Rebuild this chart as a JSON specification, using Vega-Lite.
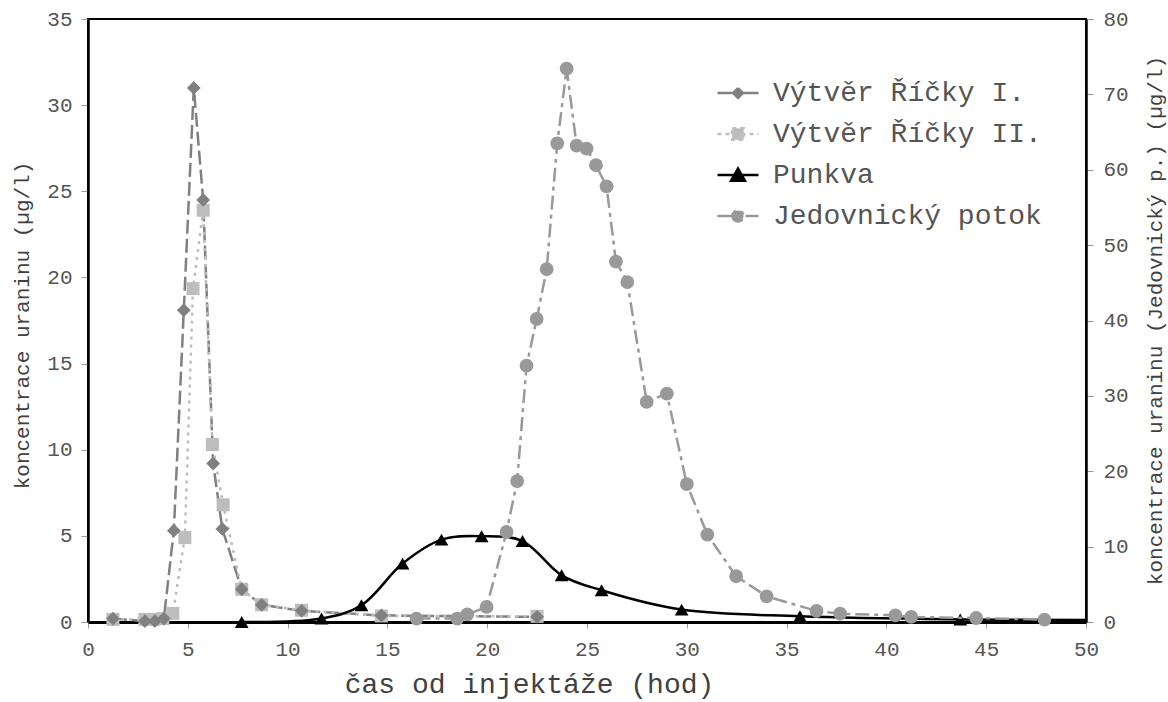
{
  "$schema": "https://vega.github.io/schema/vega-lite/v6.json",
  "autosize": "none",
  "width": 998,
  "height": 603,
  "padding": {"left": 88, "top": 19, "right": 82, "bottom": 80},
  "background": "white",
  "config": {
    "font": "Liberation Mono",
    "view": {"stroke": "black", "strokeWidth": 2},
    "axis": {"grid": false, "labelFont": "Liberation Mono", "titleFont": "Liberation Mono", "labelColor": "#555555", "titleColor": "#404040", "titleFontWeight": "normal", "tickColor": "#9a9a9a", "domainColor": "black"}
  },
  "data": {"values": [
    {"s": "Výtvěr Říčky I.", "h": 1.25, "v": 0.2},
    {"s": "Výtvěr Říčky I.", "h": 2.85, "v": 0.05},
    {"s": "Výtvěr Říčky I.", "h": 3.35, "v": 0.05},
    {"s": "Výtvěr Říčky I.", "h": 3.8, "v": 0.2},
    {"s": "Výtvěr Říčky I.", "h": 4.3, "v": 5.3},
    {"s": "Výtvěr Říčky I.", "h": 4.8, "v": 18.1},
    {"s": "Výtvěr Říčky I.", "h": 5.3, "v": 31.0},
    {"s": "Výtvěr Říčky I.", "h": 5.77, "v": 24.5},
    {"s": "Výtvěr Říčky I.", "h": 6.27, "v": 9.2},
    {"s": "Výtvěr Říčky I.", "h": 6.73, "v": 5.4},
    {"s": "Výtvěr Říčky I.", "h": 7.7, "v": 1.9},
    {"s": "Výtvěr Říčky I.", "h": 8.7, "v": 1.0},
    {"s": "Výtvěr Říčky I.", "h": 10.7, "v": 0.65},
    {"s": "Výtvěr Říčky I.", "h": 14.7, "v": 0.38},
    {"s": "Výtvěr Říčky I.", "h": 22.5, "v": 0.3},
    {"s": "Výtvěr Říčky II.", "h": 1.25, "v": 0.15},
    {"s": "Výtvěr Říčky II.", "h": 2.85, "v": 0.15},
    {"s": "Výtvěr Říčky II.", "h": 3.3, "v": 0.15},
    {"s": "Výtvěr Říčky II.", "h": 3.75, "v": 0.2},
    {"s": "Výtvěr Říčky II.", "h": 4.25, "v": 0.5},
    {"s": "Výtvěr Říčky II.", "h": 4.85, "v": 4.9},
    {"s": "Výtvěr Říčky II.", "h": 5.26, "v": 19.35},
    {"s": "Výtvěr Říčky II.", "h": 5.77, "v": 23.9},
    {"s": "Výtvěr Říčky II.", "h": 6.23, "v": 10.3},
    {"s": "Výtvěr Říčky II.", "h": 6.77, "v": 6.8},
    {"s": "Výtvěr Říčky II.", "h": 7.7, "v": 1.9},
    {"s": "Výtvěr Říčky II.", "h": 8.7, "v": 1.0},
    {"s": "Výtvěr Říčky II.", "h": 10.7, "v": 0.68},
    {"s": "Výtvěr Říčky II.", "h": 14.7, "v": 0.35},
    {"s": "Výtvěr Říčky II.", "h": 22.5, "v": 0.33},
    {"s": "Punkva", "h": 7.7, "v": 0.0},
    {"s": "Punkva", "h": 11.7, "v": 0.2},
    {"s": "Punkva", "h": 13.7, "v": 0.97},
    {"s": "Punkva", "h": 15.76, "v": 3.39},
    {"s": "Punkva", "h": 17.71, "v": 4.78},
    {"s": "Punkva", "h": 19.72, "v": 4.98},
    {"s": "Punkva", "h": 21.77, "v": 4.7},
    {"s": "Punkva", "h": 23.73, "v": 2.71},
    {"s": "Punkva", "h": 25.73, "v": 1.84},
    {"s": "Punkva", "h": 29.74, "v": 0.72},
    {"s": "Punkva", "h": 35.67, "v": 0.33},
    {"s": "Punkva", "h": 43.7, "v": 0.15},
    {"s": "Punkva", "h": 50, "v": 0.12},
    {"s": "Jedovnický potok", "h": 16.46, "v": 0.45},
    {"s": "Jedovnický potok", "h": 18.5, "v": 0.45},
    {"s": "Jedovnický potok", "h": 19.0, "v": 1.0},
    {"s": "Jedovnický potok", "h": 19.97, "v": 2.0},
    {"s": "Jedovnický potok", "h": 20.97, "v": 11.95},
    {"s": "Jedovnický potok", "h": 21.5, "v": 18.7},
    {"s": "Jedovnický potok", "h": 21.97, "v": 34.0},
    {"s": "Jedovnický potok", "h": 22.48, "v": 40.2},
    {"s": "Jedovnický potok", "h": 22.98, "v": 46.8},
    {"s": "Jedovnický potok", "h": 23.51, "v": 63.5},
    {"s": "Jedovnický potok", "h": 23.98, "v": 73.4},
    {"s": "Jedovnický potok", "h": 24.48, "v": 63.2},
    {"s": "Jedovnický potok", "h": 24.98, "v": 62.8},
    {"s": "Jedovnický potok", "h": 25.45, "v": 60.6},
    {"s": "Jedovnický potok", "h": 25.98, "v": 57.8},
    {"s": "Jedovnický potok", "h": 26.45, "v": 47.8},
    {"s": "Jedovnický potok", "h": 27.02, "v": 45.1},
    {"s": "Jedovnický potok", "h": 27.99, "v": 29.2},
    {"s": "Jedovnický potok", "h": 29.0, "v": 30.3},
    {"s": "Jedovnický potok", "h": 30.0, "v": 18.3},
    {"s": "Jedovnický potok", "h": 31.03, "v": 11.6},
    {"s": "Jedovnický potok", "h": 32.47, "v": 6.07},
    {"s": "Jedovnický potok", "h": 34.0, "v": 3.41},
    {"s": "Jedovnický potok", "h": 36.5, "v": 1.46},
    {"s": "Jedovnický potok", "h": 37.68, "v": 1.1},
    {"s": "Jedovnický potok", "h": 40.45, "v": 0.89},
    {"s": "Jedovnický potok", "h": 41.24, "v": 0.67},
    {"s": "Jedovnický potok", "h": 44.5, "v": 0.53},
    {"s": "Jedovnický potok", "h": 47.92, "v": 0.32}
  ]},
  "encoding": {
    "x": {
      "field": "h", "type": "quantitative",
      "scale": {"domain": [0, 50], "nice": false},
      "axis": {
        "values": [0, 5, 10, 15, 20, 25, 30, 35, 40, 45, 50],
        "title": "čas od injektáže (hod)",
        "titleFontSize": 28, "titleX": 441, "titleY": 76, "titleBaseline": "bottom", "titleAlign": "center",
        "labelFontSize": 21, "labelPadding": 10, "tickSize": 6, "domainWidth": 3, "labelFlush": false
      }
    },
    "color": {
      "field": "s", "type": "nominal",
      "scale": {"domain": ["Výtvěr Říčky I.", "Výtvěr Říčky II.", "Punkva", "Jedovnický potok"], "range": ["#808080", "#bdbdbd", "#000000", "#999999"]},
      "legend": {
        "title": null, "orient": "none", "legendX": 628, "legendY": 52,
        "labelFont": "Liberation Mono", "labelFontSize": 28, "labelColor": "#555555", "labelOffset": 13, "labelLimit": 500,
        "symbolSize": 1681, "rowPadding": 5, "padding": 0,
        "encode": {
          "symbols": {
            "update": {
              "shape": {"signal": "['M-1,0H1M0,-0.24L0.24,0L0,0.24L-0.24,0Z','M-1,0H1M-0.28,-0.28H0.28V0.28H-0.28Z','M-1,0H1M0,-0.32L0.34,0.28H-0.34Z','M-1,0H1M-0.27,0A0.27,0.27 0 1,0 0.27,0A0.27,0.27 0 1,0 -0.27,0Z'][datum.index]"},
              "size": {"value": 1681},
              "fill": {"signal": "['#808080','#bdbdbd','#000000','#999999'][datum.index]"},
              "stroke": {"signal": "['#808080','#bdbdbd','#000000','#999999'][datum.index]"},
              "strokeDash": {"signal": "[[30,0],[4,4],[30,0],[14,5,4,5]][datum.index]"},
              "strokeWidth": {"value": 2.5},
              "opacity": {"value": 1},
              "fillOpacity": {"value": 1}
            }
          }
        }
      }
    }
  },
  "layer": [
    {
      "encoding": {
        "y": {
          "field": "v", "type": "quantitative",
          "scale": {"domain": [0, 35], "nice": false},
          "axis": {
            "orient": "left", "values": [0, 5, 10, 15, 20, 25, 30, 35],
            "title": "koncentrace uraninu (µg/l)", "titleFontSize": 21, "titleAngle": 270,
            "titleX": -66, "titleY": 306, "titleBaseline": "middle", "titleAlign": "center",
            "labelFontSize": 21, "labelPadding": 9, "tickSize": 7, "domainWidth": 2.5
          }
        }
      },
      "layer": [
        {
          "transform": [{"filter": {"field": "s", "equal": "Výtvěr Říčky I."}}],
          "mark": {"type": "line", "strokeWidth": 2.5, "strokeDash": [14, 5]},
          "encoding": {}
        },
        {
          "transform": [{"filter": {"field": "s", "equal": "Výtvěr Říčky II."}}],
          "mark": {"type": "line", "strokeWidth": 2.5, "strokeDash": [3, 5]},
          "encoding": {}
        },
        {
          "transform": [{"filter": {"field": "s", "equal": "Punkva"}}],
          "mark": {"type": "line", "strokeWidth": 2.5, "interpolate": "catmull-rom"},
          "encoding": {}
        },
        {
          "transform": [{"filter": {"field": "s", "equal": "Výtvěr Říčky II."}}],
          "mark": {"type": "point", "filled": true, "opacity": 1, "shape": "square", "size": 170},
          "encoding": {}
        },
        {
          "transform": [{"filter": {"field": "s", "equal": "Výtvěr Říčky I."}}],
          "mark": {"type": "point", "filled": true, "opacity": 1, "shape": "diamond", "size": 190},
          "encoding": {}
        },
        {
          "transform": [{"filter": {"field": "s", "equal": "Punkva"}}, {"filter": "datum.h < 50"}],
          "mark": {"type": "point", "filled": true, "opacity": 1, "shape": "triangle-up", "size": 190},
          "encoding": {}
        }
      ]
    },
    {
      "encoding": {
        "y": {
          "field": "v", "type": "quantitative",
          "scale": {"domain": [0, 80], "nice": false},
          "axis": {
            "orient": "right", "values": [0, 10, 20, 30, 40, 50, 60, 70, 80],
            "title": "koncentrace uraninu (Jedovnický p.) (µg/l)", "titleFontSize": 21, "titleAngle": 270,
            "titleX": 69, "titleY": 301, "titleBaseline": "middle", "titleAlign": "center",
            "labelFontSize": 21, "labelPadding": 10, "tickSize": 7, "domainWidth": 2.5
          }
        }
      },
      "layer": [
        {
          "transform": [{"filter": {"field": "s", "equal": "Jedovnický potok"}}],
          "mark": {"type": "line", "strokeWidth": 2.5, "strokeDash": [14, 5, 4, 5]},
          "encoding": {}
        },
        {
          "transform": [{"filter": {"field": "s", "equal": "Jedovnický potok"}}],
          "mark": {"type": "point", "filled": true, "opacity": 1, "shape": "circle", "size": 190},
          "encoding": {}
        }
      ]
    }
  ],
  "resolve": {"scale": {"y": "independent"}}
}
